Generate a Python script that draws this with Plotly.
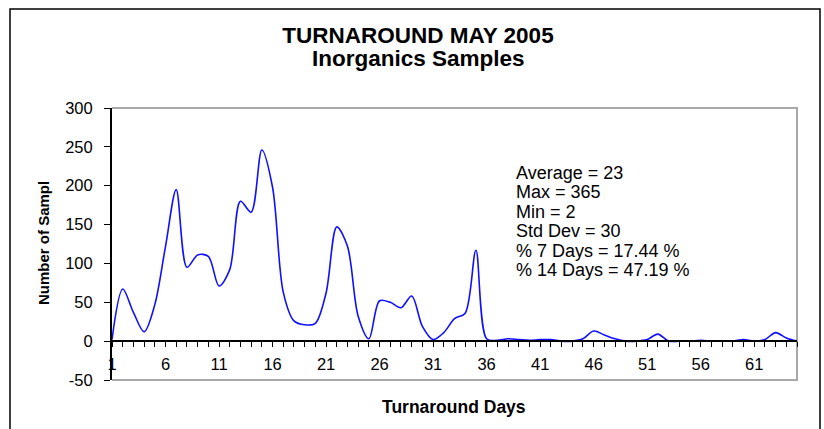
import plotly.graph_objects as go

# ---- data ----
days = list(range(1, 66))
samples = [
    2, 67, 37, 12, 47, 122, 195, 95, 111, 109,
    71, 92, 180, 166, 246, 198, 63, 26, 21, 23,
    62, 147, 122, 32, 3, 52, 50, 43, 58, 19,
    2, 11, 29, 36, 117, 3, 1, 3, 2, 1,
    2, 2, 0, 0, 3, 13, 8, 3, 0, 0,
    2, 9, 0, 0, 0, 1, 0, 0, 0, 2,
    0, 2, 11, 4, 0,
]
x_tick_labels = [str(d) if (d - 1) % 5 == 0 else "" for d in days]
y_ticks = [-50, 0, 50, 100, 150, 200, 250, 300]
y_tick_labels = ["-50", "0", "50", "100", "150", "200", "250", "300"]
stats_lines = [
    "Average = 23",
    "Max = 365",
    "Min = 2",
    "Std Dev = 30",
    "% 7 Days = 17.44 %",
    "% 14 Days = 47.19 %",
]
title_line1 = "TURNAROUND MAY 2005"
title_line2 = "Inorganics Samples"
x_title = "Turnaround Days"
y_title = "Number of Sampl"

FONT = "Liberation Sans, Arial, sans-serif"
W, H = 824, 429
L, R, T, B = 112, 27, 108, 49
PW, PH = W - L - R, H - T - B


def px_to_paper_x(px):
    return (px - L) / PW


def py_to_paper_y(py):
    return (H - B - py) / PH


fig = go.Figure()
fig.add_trace(go.Scatter(
    x=days, y=samples, mode="lines",
    line=dict(color="#1010ff", width=1.6, shape="spline", smoothing=0.9),
    showlegend=False, hoverinfo="x+y",
))

zero_pos = 50 / 350

fig.update_layout(
    width=W, height=H,
    margin=dict(l=L, r=R, t=T, b=B),
    paper_bgcolor="white", plot_bgcolor="white",
    font=dict(family=FONT, color="black", size=16),
    title=dict(text="<b>%s</b>" % title_line1, x=418 / W,
               xanchor="center", y=1 - 35 / H, yanchor="middle",
               font=dict(size=22.5, family=FONT, color="black")),
    xaxis=dict(
        range=[1, 65], tickmode="array", tickvals=days, ticktext=x_tick_labels,
        anchor="free", position=zero_pos, showline=True, linecolor="black", linewidth=2,
        ticks="outside", ticklen=5, tickwidth=1.3, tickcolor="black",
        showgrid=False, zeroline=False, tickfont=dict(size=16.5),
        ticklabelstandoff=3,
    ),
    xaxis2=dict(
        range=[1, 65], tickmode="array", tickvals=days, ticktext=[""] * len(days),
        overlaying="x", anchor="free", position=zero_pos, showline=False,
        ticks="inside", ticklen=5, tickwidth=1.3, tickcolor="black",
        showgrid=False, zeroline=False, showticklabels=False,
    ),
    yaxis=dict(
        range=[-50, 300], tickmode="array", tickvals=y_ticks, ticktext=y_tick_labels,
        showline=True, linecolor="black", linewidth=2,
        ticks="outside", ticklen=6, tickwidth=1.3, tickcolor="black",
        showgrid=False, zeroline=False, tickfont=dict(size=16.5),
        ticklabelstandoff=8,
    ),
    yaxis2=dict(
        range=[-50, 300], tickmode="array", tickvals=y_ticks, overlaying="y",
        anchor="x", side="left", showline=False,
        ticks="inside", ticklen=6, tickwidth=1.3, tickcolor="black",
        showgrid=False, zeroline=False, showticklabels=False,
    ),
)

# grey plot-area border (top, right, bottom)
fig.add_shape(type="path", xref="paper", yref="paper",
              path="M 0 1 L 1 1 L 1 0 L 0 0",
              line=dict(color="#a8a8a8", width=2), layer="below")
# outer chart border
fig.add_shape(type="rect", xref="paper", yref="paper",
              x0=px_to_paper_x(10), x1=px_to_paper_x(820),
              y0=py_to_paper_y(445), y1=py_to_paper_y(9),
              line=dict(color="black", width=1.5), layer="below")

# subtitle
fig.add_annotation(text="<b>%s</b>" % title_line2, xref="paper", yref="paper",
                   x=px_to_paper_x(418), y=py_to_paper_y(59),
                   xanchor="center", yanchor="middle", showarrow=False,
                   font=dict(size=22.5, family=FONT, color="black"))
# axis titles
fig.add_annotation(text="<b>%s</b>" % x_title, xref="paper", yref="paper",
                   x=px_to_paper_x(454), y=py_to_paper_y(407),
                   xanchor="center", yanchor="middle", showarrow=False,
                   font=dict(size=17.5, family=FONT, color="black"))
fig.add_annotation(text="<b>%s</b>" % y_title, xref="paper", yref="paper",
                   x=px_to_paper_x(43), y=py_to_paper_y(243), textangle=-90,
                   xanchor="center", yanchor="middle", showarrow=False,
                   font=dict(size=15, family=FONT, color="black"))
# statistics text block
for i, line in enumerate(stats_lines):
    fig.add_annotation(text=line, xref="paper", yref="paper",
                       x=px_to_paper_x(514), y=py_to_paper_y(173 + i * 19.4),
                       xanchor="left", yanchor="middle", showarrow=False,
                       font=dict(size=18, family=FONT, color="black"))

fig.write_html("out.html", config={"displayModeBar": False},
               post_script="document.body.style.margin='0';document.body.style.overflow='hidden';")
